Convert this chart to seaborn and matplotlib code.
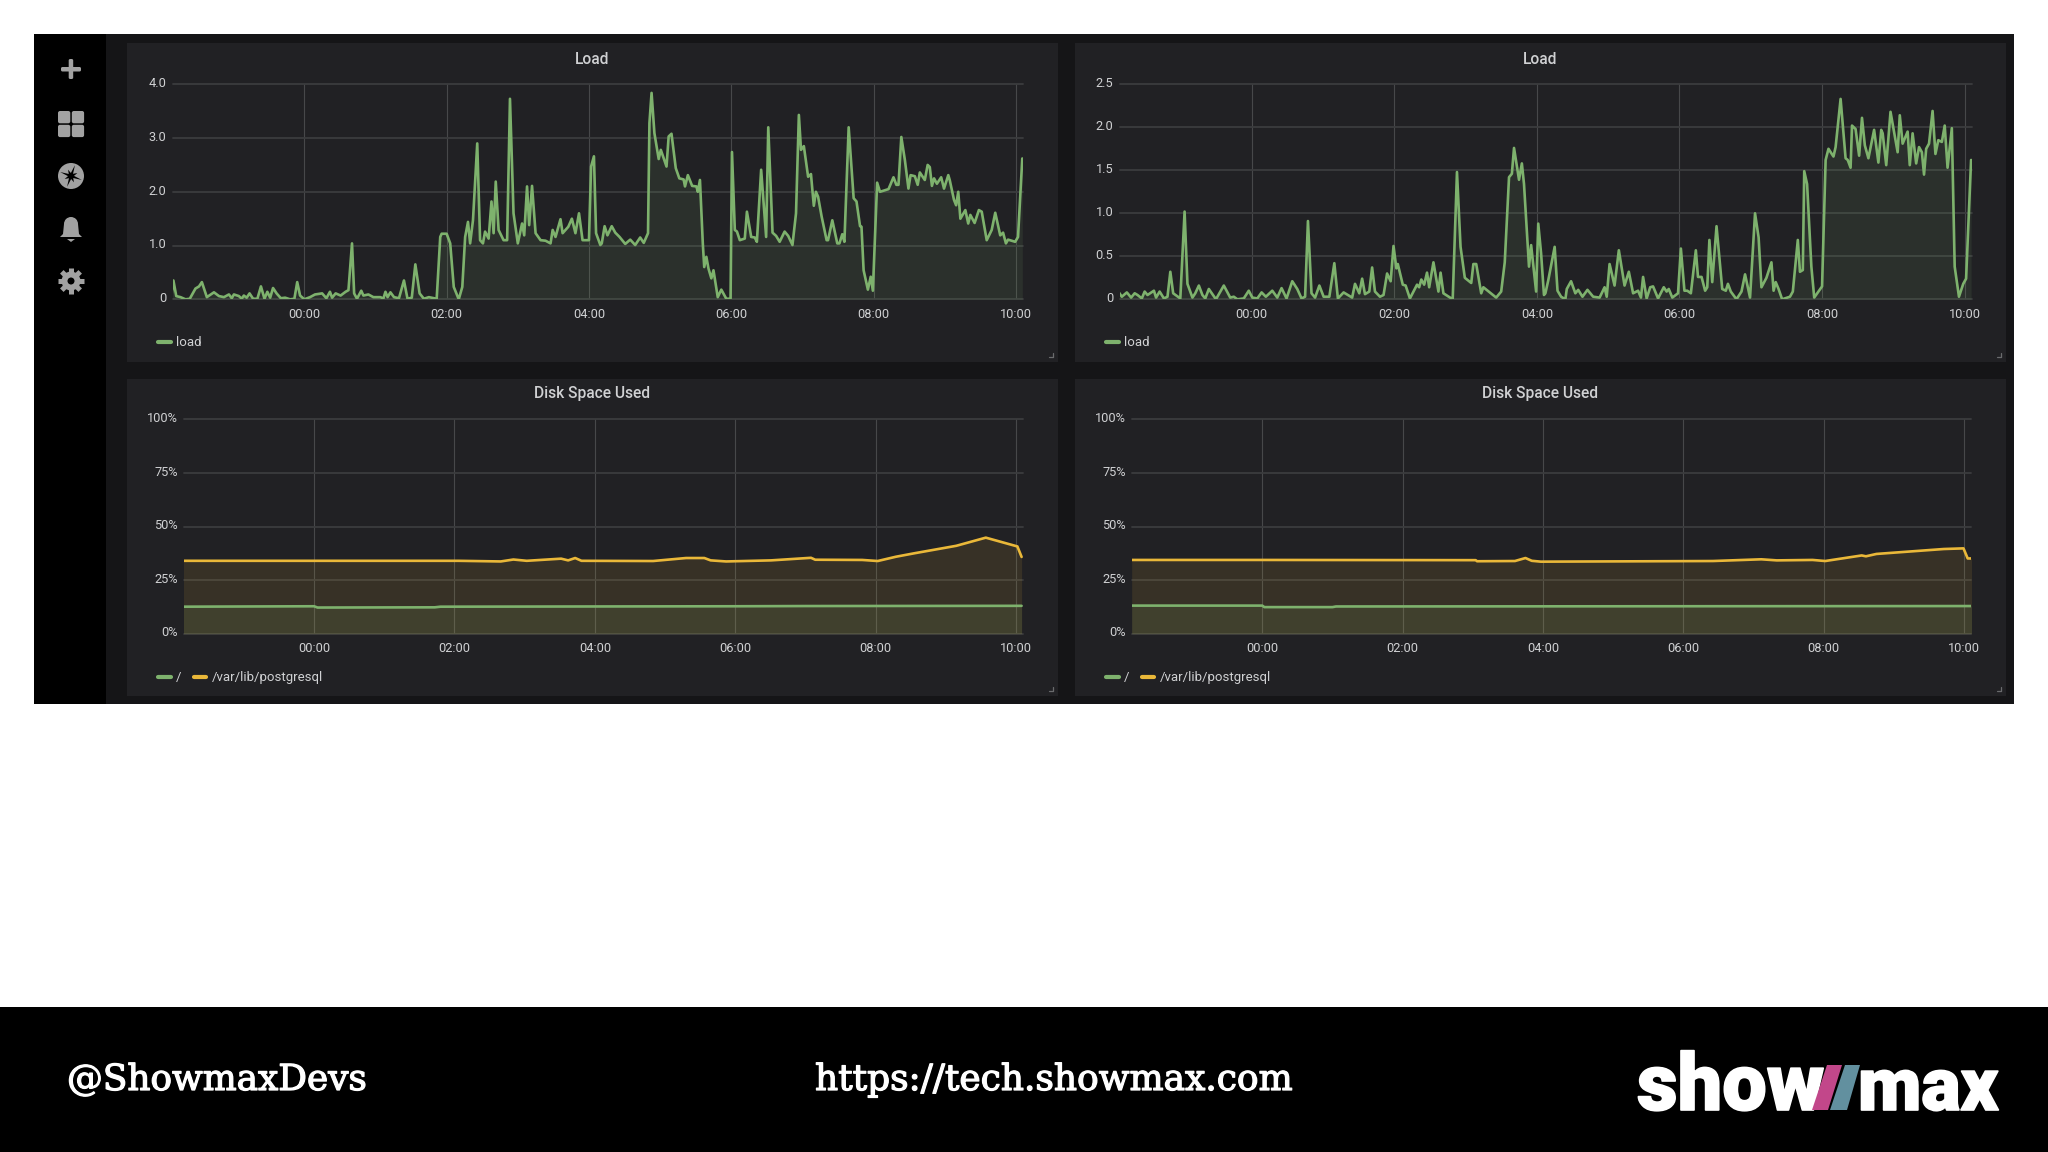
import matplotlib

matplotlib.use("Agg")
import matplotlib.patheffects as pe
import matplotlib.pyplot as plt
import numpy as np
import seaborn as sns
from matplotlib.patches import Circle, FancyBboxPatch, Polygon, Rectangle
from matplotlib.transforms import ScaledTranslation

# ------------------------------------------------------
# Values (hours from midnight)
# ------------------------------------------------------
tick_hours = [0, 2, 4, 6, 8, 10]
tick_labels = ["00:00", "02:00", "04:00", "06:00", "08:00", "10:00"]

load_a_ticks = [0, 1, 2, 3, 4]
load_a_tick_labels = ["0", "1.0", "2.0", "3.0", "4.0"]
load_b_ticks = [0, 0.5, 1, 1.5, 2, 2.5]
load_b_tick_labels = ["0", "0.5", "1.0", "1.5", "2.0", "2.5"]
disk_ticks = [0, 25, 50, 75, 100]
disk_tick_labels = ["0%", "25%", "50%", "75%", "100%"]

load_a_hours = [
    -1.87, -1.84, -1.80, -1.74, -1.67, -1.61, -1.53, -1.48, -1.44, -1.37, -1.27, -1.20,
    -1.13, -1.06, -1.02, -0.99, -0.92, -0.88, -0.85, -0.81, -0.77, -0.72, -0.66, -0.61,
    -0.56, -0.52, -0.48, -0.44, -0.39, -0.33, -0.27, -0.20, -0.14, -0.10, -0.06, 0.00,
    0.08, 0.15, 0.25, 0.31, 0.36, 0.39, 0.44, 0.51, 0.58, 0.62, 0.67, 0.70,
    0.74, 0.80, 0.83, 0.90, 0.97, 1.07, 1.11, 1.14, 1.17, 1.21, 1.26, 1.33,
    1.40, 1.45, 1.51, 1.56, 1.62, 1.68, 1.75, 1.86, 1.91, 1.93, 2.00, 2.05,
    2.10, 2.17, 2.22, 2.26, 2.30, 2.33, 2.37, 2.43, 2.47, 2.51, 2.54, 2.59,
    2.63, 2.66, 2.69, 2.73, 2.80, 2.85, 2.89, 2.94, 3.00, 3.06, 3.09, 3.13,
    3.16, 3.20, 3.25, 3.32, 3.39, 3.46, 3.49, 3.53, 3.60, 3.63, 3.71, 3.76,
    3.81, 3.86, 3.91, 4.00, 4.03, 4.07, 4.10, 4.16, 4.18, 4.22, 4.26, 4.32,
    4.37, 4.43, 4.51, 4.58, 4.65, 4.72, 4.77, 4.83, 4.85, 4.88, 4.92, 4.98,
    5.01, 5.09, 5.12, 5.16, 5.22, 5.27, 5.33, 5.35, 5.39, 5.45, 5.51, 5.53,
    5.56, 5.60, 5.62, 5.65, 5.68, 5.72, 5.75, 5.81, 5.86, 5.93, 5.99, 6.01,
    6.05, 6.08, 6.12, 6.19, 6.22, 6.28, 6.33, 6.36, 6.42, 6.49, 6.52, 6.58,
    6.63, 6.68, 6.75, 6.80, 6.86, 6.91, 6.95, 6.98, 7.02, 7.08, 7.12, 7.16,
    7.19, 7.22, 7.27, 7.34, 7.36, 7.42, 7.49, 7.52, 7.56, 7.59, 7.65, 7.72,
    7.76, 7.81, 7.83, 7.86, 7.92, 7.96, 7.99, 8.05, 8.09, 8.16, 8.21, 8.28,
    8.32, 8.35, 8.39, 8.44, 8.49, 8.52, 8.58, 8.62, 8.65, 8.72, 8.76, 8.79,
    8.82, 8.85, 8.89, 8.95, 8.99, 9.05, 9.07, 9.13, 9.16, 9.19, 9.22, 9.29,
    9.33, 9.36, 9.42, 9.48, 9.52, 9.59, 9.66, 9.71, 9.78, 9.82, 9.86, 9.89,
    9.99, 10.03, 10.09,
]
load_a_values = [
    0.04, 0.35, 0.06, 0.04, 0.00, 0.01, 0.20, 0.24, 0.32, 0.04, 0.13, 0.06,
    0.04, 0.09, 0.02, 0.09, 0.06, 0.01, 0.07, 0.03, 0.11, 0.01, 0.01, 0.24,
    0.01, 0.14, 0.03, 0.21, 0.11, 0.02, 0.03, 0.00, 0.01, 0.32, 0.07, 0.00,
    0.04, 0.09, 0.11, 0.02, 0.14, 0.03, 0.11, 0.07, 0.14, 0.17, 1.04, 0.11,
    0.01, 0.16, 0.07, 0.09, 0.04, 0.04, 0.01, 0.14, 0.04, 0.13, 0.04, 0.02,
    0.35, 0.01, 0.03, 0.65, 0.11, 0.01, 0.04, 0.01, 1.16, 1.22, 1.22, 1.04,
    0.23, 0.00, 0.23, 1.16, 1.44, 1.04, 1.47, 2.90, 1.10, 1.04, 1.26, 1.13,
    1.82, 1.23, 2.19, 1.29, 1.10, 1.10, 3.73, 1.60, 1.04, 1.41, 1.19, 2.10,
    1.38, 2.11, 1.23, 1.10, 1.09, 1.04, 1.29, 1.16, 1.49, 1.23, 1.35, 1.50,
    1.23, 1.60, 1.10, 1.10, 2.47, 2.66, 1.23, 1.01, 1.04, 1.36, 1.19, 1.36,
    1.24, 1.16, 1.03, 1.11, 1.01, 1.15, 1.05, 1.23, 3.28, 3.84, 3.09, 2.61,
    2.78, 2.47, 3.03, 3.08, 2.44, 2.25, 2.23, 2.10, 2.31, 2.11, 2.10, 2.00,
    2.22, 1.04, 0.60, 0.79, 0.57, 0.39, 0.54, 0.04, 0.18, 0.01, 0.01, 2.74,
    1.29, 1.26, 1.10, 1.13, 1.63, 1.16, 1.15, 1.07, 2.41, 1.16, 3.20, 1.24,
    1.18, 1.07, 1.26, 1.18, 1.01, 1.60, 3.43, 2.78, 2.85, 2.28, 2.33, 1.74,
    2.00, 1.91, 1.54, 1.10, 1.10, 1.47, 1.04, 1.04, 1.21, 1.07, 3.20, 1.88,
    1.82, 1.36, 1.35, 0.54, 0.18, 0.42, 0.16, 2.17, 2.00, 2.03, 2.05, 2.27,
    2.13, 2.13, 3.02, 2.59, 2.06, 2.31, 2.29, 2.13, 2.36, 2.22, 2.50, 2.46,
    2.11, 2.25, 2.15, 2.27, 2.06, 2.31, 2.22, 1.85, 1.75, 2.00, 1.50, 1.66,
    1.41, 1.57, 1.42, 1.66, 1.63, 1.10, 1.29, 1.61, 1.19, 1.24, 1.04, 1.11,
    1.07, 1.16, 2.62,
]

load_b_hours = [
    -1.87, -1.82, -1.75, -1.69, -1.64, -1.60, -1.54, -1.50, -1.46, -1.37, -1.34, -1.29,
    -1.23, -1.18, -1.14, -1.10, -1.00, -0.94, -0.90, -0.83, -0.79, -0.74, -0.69, -0.65,
    -0.60, -0.50, -0.39, -0.30, -0.25, -0.20, -0.11, -0.04, 0.01, 0.08, 0.14, 0.20,
    0.29, 0.36, 0.42, 0.49, 0.57, 0.64, 0.70, 0.75, 0.79, 0.84, 0.89, 0.95,
    1.01, 1.09, 1.16, 1.21, 1.29, 1.41, 1.45, 1.51, 1.55, 1.59, 1.65, 1.69,
    1.73, 1.80, 1.85, 1.90, 1.95, 1.99, 2.03, 2.05, 2.12, 2.16, 2.22, 2.32,
    2.35, 2.38, 2.42, 2.46, 2.49, 2.55, 2.62, 2.65, 2.69, 2.82, 2.88, 2.93,
    2.99, 3.08, 3.11, 3.15, 3.22, 3.25, 3.43, 3.50, 3.55, 3.61, 3.65, 3.68,
    3.75, 3.79, 3.82, 3.89, 3.92, 3.99, 4.02, 4.06, 4.10, 4.12, 4.16, 4.25,
    4.29, 4.34, 4.40, 4.42, 4.48, 4.54, 4.58, 4.64, 4.71, 4.79, 4.88, 4.95,
    4.98, 5.02, 5.09, 5.15, 5.23, 5.29, 5.35, 5.42, 5.46, 5.49, 5.54, 5.59,
    5.63, 5.70, 5.78, 5.82, 5.85, 5.90, 5.98, 6.02, 6.07, 6.11, 6.16, 6.23,
    6.26, 6.31, 6.36, 6.39, 6.42, 6.46, 6.52, 6.60, 6.65, 6.68, 6.72, 6.80,
    6.87, 6.92, 6.99, 7.06, 7.11, 7.15, 7.22, 7.29, 7.32, 7.35, 7.39, 7.44,
    7.55, 7.59, 7.66, 7.69, 7.73, 7.75, 7.79, 7.85, 7.89, 8.00, 8.05, 8.09,
    8.16, 8.19, 8.26, 8.33, 8.36, 8.40, 8.42, 8.47, 8.52, 8.56, 8.60, 8.65,
    8.73, 8.79, 8.83, 8.85, 8.90, 8.96, 9.06, 9.09, 9.13, 9.20, 9.23, 9.27,
    9.32, 9.36, 9.40, 9.43, 9.46, 9.50, 9.55, 9.59, 9.63, 9.68, 9.72, 9.76,
    9.82, 9.86, 9.92, 9.98, 10.02, 10.09,
]
load_b_values = [
    0.09, 0.03, 0.08, 0.02, 0.07, 0.05, 0.01, 0.09, 0.05, 0.10, 0.02, 0.09,
    0.01, 0.03, 0.32, 0.07, 0.01, 1.02, 0.18, 0.02, 0.07, 0.16, 0.05, 0.01,
    0.12, 0.00, 0.16, 0.02, 0.03, 0.00, 0.01, 0.10, 0.02, 0.01, 0.08, 0.03,
    0.10, 0.02, 0.13, 0.01, 0.21, 0.12, 0.01, 0.03, 0.91, 0.07, 0.02, 0.16,
    0.03, 0.03, 0.42, 0.01, 0.08, 0.02, 0.18, 0.07, 0.24, 0.06, 0.09, 0.37,
    0.09, 0.03, 0.05, 0.30, 0.21, 0.62, 0.36, 0.41, 0.17, 0.16, 0.01, 0.17,
    0.14, 0.23, 0.17, 0.31, 0.14, 0.43, 0.09, 0.31, 0.07, 0.00, 1.48, 0.61,
    0.25, 0.19, 0.41, 0.41, 0.07, 0.14, 0.02, 0.09, 0.43, 1.42, 1.46, 1.76,
    1.39, 1.58, 1.34, 0.38, 0.63, 0.09, 0.88, 0.53, 0.05, 0.07, 0.22, 0.61,
    0.10, 0.03, 0.00, 0.12, 0.21, 0.07, 0.11, 0.03, 0.11, 0.03, 0.02, 0.14,
    0.03, 0.41, 0.16, 0.57, 0.16, 0.32, 0.07, 0.10, 0.02, 0.26, 0.01, 0.14,
    0.15, 0.01, 0.14, 0.09, 0.12, 0.02, 0.07, 0.59, 0.10, 0.10, 0.07, 0.57,
    0.26, 0.26, 0.10, 0.14, 0.69, 0.20, 0.85, 0.12, 0.10, 0.18, 0.09, 0.00,
    0.09, 0.29, 0.02, 1.00, 0.72, 0.14, 0.25, 0.43, 0.10, 0.20, 0.12, 0.00,
    0.03, 0.09, 0.69, 0.32, 0.34, 1.49, 1.34, 0.38, 0.02, 0.15, 1.62, 1.75,
    1.66, 1.77, 2.33, 1.64, 1.62, 1.53, 2.02, 1.98, 1.67, 2.11, 1.79, 1.64,
    1.97, 1.59, 1.97, 1.93, 1.56, 2.18, 1.71, 2.14, 1.81, 1.95, 1.56, 1.93,
    1.58, 1.77, 1.71, 1.45, 1.75, 1.81, 2.19, 1.69, 1.85, 1.83, 2.02, 1.53,
    1.99, 0.38, 0.03, 0.18, 0.24, 1.62,
]

disk_a_pg_hours = [
    -1.87, 0.00, 2.06, 2.66, 2.84, 3.03, 3.52, 3.62, 3.72, 3.81, 4.83, 5.30, 5.56,
    5.65, 5.87, 6.51, 7.08, 7.14, 7.81, 8.03, 8.29, 8.55, 9.15, 9.57, 10.02, 10.08,
]
disk_a_pg_values = [
    34.0, 34.0, 34.0, 33.7, 34.6, 34.0, 35.0, 34.2, 35.3, 34.0, 33.9, 35.3, 35.3,
    34.2, 33.7, 34.2, 35.4, 34.5, 34.4, 33.9, 35.9, 37.5, 41.0, 44.8, 40.7, 35.8,
]
disk_a_root_hours = [-1.87, 0.00, 0.05, 1.72, 1.80, 6.00, 7.00, 10.08]
disk_a_root_values = [12.6, 12.8, 12.2, 12.3, 12.6, 12.8, 12.9, 13.0]

disk_b_pg_hours = [
    -1.86, 0.00, 3.04, 3.06, 3.60, 3.75, 3.84, 3.97, 6.42, 7.11, 7.33, 7.84, 8.02,
    8.32, 8.54, 8.60, 8.75, 9.71, 9.99, 10.05, 10.11,
]
disk_b_pg_values = [
    34.4, 34.4, 34.3, 33.8, 33.9, 35.3, 34.0, 33.6, 33.9, 34.7, 34.2, 34.4, 33.9,
    35.4, 36.5, 36.1, 37.2, 39.5, 39.8, 35.1, 35.1,
]
disk_b_root_hours = [-1.86, 0.00, 0.03, 1.00, 1.05, 10.11]
disk_b_root_values = [13.1, 13.1, 12.4, 12.4, 12.7, 12.9]

GREEN = "#7eb26d"
YELLOW = "#eab839"
TEXT = "#d0d1d3"
PANEL = "#212124"
W, H = 2048, 1152


def px_box(left, top, right, bottom):
    # figure fractions from screenshot pixels
    return [left / W, 1 - bottom / H, (right - left) / W, (bottom - top) / H]


def draw_series(ax, hours, values, color, label, fill_alpha):
    sns.lineplot(x=hours, y=values, ax=ax, color=color, linewidth=1.9, label=label,
                 estimator=None, sort=False)
    ax.fill_between(hours, 0, values, color=color, alpha=fill_alpha, linewidth=0)


def style_axes(ax, ylim, yticks, yticklabels, legend_px):
    ax.set_facecolor("none")
    ax.set_xlim(-1.85, 10.1)
    ax.set_ylim(*ylim)
    ax.set_xticks(tick_hours, tick_labels)
    ax.set_yticks(yticks, yticklabels)
    ax.set_xlabel("")
    ax.set_ylabel("")
    ax.tick_params(length=0, labelsize=9.2, labelcolor=TEXT)
    ax.tick_params(axis="x", pad=6.3)
    ax.tick_params(axis="y", pad=4.6)
    ax.grid(axis="y", color="#3b3c3e", linewidth=1.3, clip_on=False)
    ax.grid(axis="x", color="#47484a", linewidth=0.8)
    for spine in ax.spines.values():
        spine.set_visible(False)
    ax.set_axisbelow(True)

    # y labels sit a little above their grid lines
    lift = ScaledTranslation(0, 2.2 / 100, ax.figure.dpi_scale_trans)
    for label in ax.get_yticklabels():
        label.set_transform(label.get_transform() + lift)

    ax.legend(loc="center left", bbox_to_anchor=(legend_px[0] / W, 1 - legend_px[1] / H),
              bbox_transform=ax.figure.transFigure, frameon=False, ncol=2, fontsize=9.5,
              labelcolor=TEXT, handlelength=0.95, handletextpad=0.4, columnspacing=0.95,
              borderpad=0, borderaxespad=0)
    for line in ax.get_legend().get_lines():
        line.set_linewidth(3.0)


def draw_chrome(bg):
    bg.set_xlim(0, W)
    bg.set_ylim(H, 0)
    bg.axis("off")

    # dashboard background, sidebar and footer
    bg.add_patch(Rectangle((34, 34), 1980, 670, color="#151517", lw=0))
    bg.add_patch(Rectangle((34, 34), 72, 670, color="#000000", lw=0))
    bg.add_patch(Rectangle((0, 1007), W, 145, color="#000000", lw=0))
    for left, top, right, bottom in [(127, 43, 1058, 362), (1075, 43, 2006, 362),
                                     (127, 379, 1058, 696), (1075, 379, 2006, 696)]:
        bg.add_patch(Rectangle((left, top), right - left, bottom - top, color=PANEL, lw=0))
        bg.plot([right - 5, right - 5, right - 9], [bottom - 9, bottom - 5, bottom - 5],
                color="#6a6b6d", lw=0.9)

    # sidebar icons
    icon = "#a2a2a2"
    bg.add_patch(FancyBboxPatch((61, 67), 20, 4.5, boxstyle="round,pad=0,rounding_size=1.5", color=icon, lw=0))
    bg.add_patch(FancyBboxPatch((68.7, 59), 4.5, 20, boxstyle="round,pad=0,rounding_size=1.5", color=icon, lw=0))
    for x0, y0 in [(58, 111), (71.8, 111), (58, 124.8), (71.8, 124.8)]:
        bg.add_patch(FancyBboxPatch((x0, y0), 12.3, 12.3, boxstyle="round,pad=0,rounding_size=2", color=icon, lw=0))

    bg.add_patch(Circle((71, 176), 13, color=icon, lw=0))
    angles = np.deg2rad(np.arange(0, 360, 22.5) + 20)
    radii = np.tile([11.5, 3, 7, 3], 4)
    bg.add_patch(Polygon(np.c_[71 + radii * np.cos(angles), 176 + radii * np.sin(angles)], color="#000000", lw=0))

    bg.add_patch(Circle((71, 224), 7, color=icon, lw=0))
    bg.add_patch(Polygon([(64, 224), (78, 224), (79, 234), (82, 237), (60, 237), (63, 234)], color=icon, lw=0))
    bg.add_patch(Polygon([(67, 239), (75, 239), (71, 242)], color=icon, lw=0))

    for angle in [0, 45, 90, 135]:
        dx, dy = 13 * np.cos(np.deg2rad(angle)), 13 * np.sin(np.deg2rad(angle))
        bg.plot([71 - dx, 71 + dx], [281 - dy, 281 + dy], color=icon, lw=3.6, solid_capstyle="butt")
    bg.add_patch(Circle((71, 281), 9.5, color=icon, lw=0, zorder=3))
    bg.add_patch(Circle((71, 281), 3.5, color="#000000", lw=0, zorder=4))

    # panel titles
    for cx, cy, title in [(592, 59.5, "Load"), (1540, 59.5, "Load"),
                          (592, 393.5, "Disk Space Used"), (1540, 393.5, "Disk Space Used")]:
        bg.text(cx, cy, title, color=TEXT, fontsize=11.2, fontweight="medium", ha="center", va="center")

    # footer
    thick = [pe.withStroke(linewidth=0.9, foreground="white")]
    bg.text(67, 1080, "@ShowmaxDevs", color="white", fontsize=25.8, family="DejaVu Serif", va="center",
            path_effects=thick)
    bg.text(815, 1080, "https://tech.showmax.com", color="white", fontsize=25.9, family="DejaVu Serif", va="center",
            path_effects=thick)
    heavy = [pe.withStroke(linewidth=1.2, foreground="white")]
    bg.text(1637, 1110, "show", color="white", fontsize=57, family="Roboto", fontweight="black", va="baseline",
            path_effects=heavy)
    bg.text(1858, 1110, "max", color="white", fontsize=53, family="Roboto", fontweight="black", va="baseline",
            path_effects=heavy)
    bg.add_patch(Polygon([(1812, 1110), (1828, 1110), (1842, 1065), (1827, 1065)], color="#c2478a", lw=0, zorder=5))
    bg.add_patch(Polygon([(1830, 1110), (1847, 1110), (1860, 1065), (1845, 1065)], color="#62909f", lw=0, zorder=5))


def main():
    sns.set_theme(style="darkgrid")
    plt.rcParams["font.family"] = ["Roboto", "DejaVu Sans"]

    fig = plt.figure(figsize=(W / 100, H / 100), dpi=100, facecolor="white")
    bg = fig.add_axes([0, 0, 1, 1], zorder=0)
    draw_chrome(bg)

    ax_a = fig.add_axes(px_box(172.7, 84.3, 1023, 299.3), zorder=1)
    draw_series(ax_a, load_a_hours, load_a_values, GREEN, "load", 0.11)
    style_axes(ax_a, (0, 4), load_a_ticks, load_a_tick_labels, (158, 343))

    ax_b = fig.add_axes(px_box(1119.7, 84.3, 1971.8, 299.3), zorder=1)
    draw_series(ax_b, load_b_hours, load_b_values, GREEN, "load", 0.11)
    style_axes(ax_b, (0, 2.5), load_b_ticks, load_b_tick_labels, (1106, 343))

    ax_c = fig.add_axes(px_box(184.2, 419.3, 1023, 633.7), zorder=1)
    draw_series(ax_c, disk_a_root_hours, disk_a_root_values, GREEN, "/", 0.12)
    draw_series(ax_c, disk_a_pg_hours, disk_a_pg_values, YELLOW, "/var/lib/postgresql", 0.11)
    style_axes(ax_c, (0, 100), disk_ticks, disk_tick_labels, (158, 678))

    ax_d = fig.add_axes(px_box(1132.4, 419.3, 1971.2, 633.7), zorder=1)
    draw_series(ax_d, disk_b_root_hours, disk_b_root_values, GREEN, "/", 0.12)
    draw_series(ax_d, disk_b_pg_hours, disk_b_pg_values, YELLOW, "/var/lib/postgresql", 0.11)
    style_axes(ax_d, (0, 100), disk_ticks, disk_tick_labels, (1106, 678))

    fig.savefig("out.png", dpi=100)
    plt.close(fig)


if __name__ == "__main__":
    main()
